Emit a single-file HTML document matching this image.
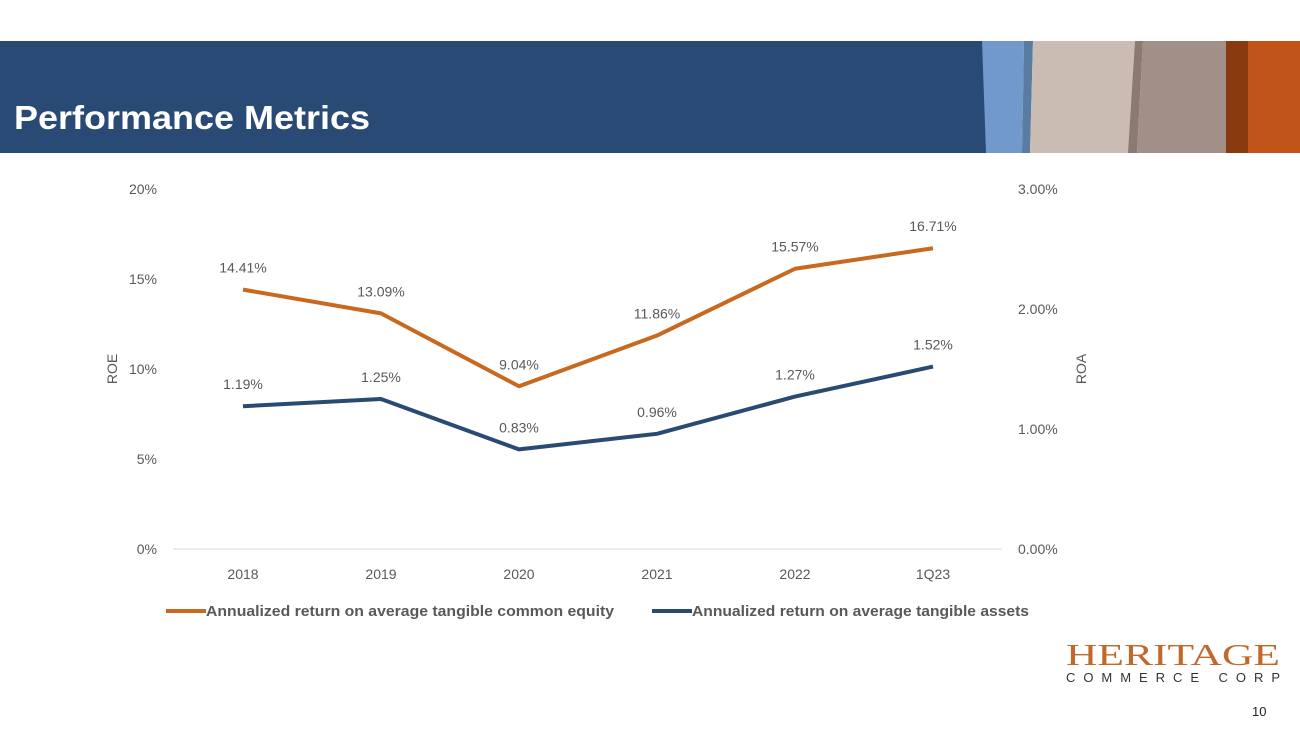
<!DOCTYPE html>
<html><head><meta charset="utf-8"><style>
body{margin:0;width:1300px;height:731px;overflow:hidden;background:#fff;font-family:"Liberation Sans",sans-serif}
</style></head><body>
<svg width="1300" height="731" xmlns="http://www.w3.org/2000/svg">
<rect x="0" y="41" width="990" height="112" fill="#284a75"/>
<polygon points="982,41 1024,41 1022,153 986,153" fill="#7199cc"/>
<polygon points="1024,41 1033,41 1030,153 1022,153" fill="#5a7ca0"/>
<polygon points="1033,41 1135,41 1130,153 1030,153" fill="#cabcb2"/>
<polygon points="1135,41 1143,41 1137,153 1128,153" fill="#8b7a70"/>
<polygon points="1143,41 1226,41 1228,153 1137,153" fill="#a28f87"/>
<rect x="1226" y="41" width="22" height="112" fill="#8a3a0f"/>
<rect x="1248" y="41" width="52" height="112" fill="#c05419"/>
<text x="14" y="129" fill="#fff" font-size="33" font-weight="bold" textLength="356" lengthAdjust="spacingAndGlyphs">Performance Metrics</text>
<g id="chart" font-size="14" fill="#595959"></g>
<text x="1066" y="665" font-family="'Liberation Serif',serif" font-size="31" fill="#c0692a" textLength="214" lengthAdjust="spacingAndGlyphs">HERITAGE</text>
<text x="1066" y="682" font-size="13" fill="#333" textLength="214">COMMERCE CORP</text>
<text x="1252" y="716" font-size="13" fill="#222">10</text>
</svg>
<script>
const categories=["2018","2019","2020","2021","2022","1Q23"];
const roe=[14.41,13.09,9.04,11.86,15.57,16.71];
const roa=[1.19,1.25,0.83,0.96,1.27,1.52];
const leftTicks=[0,5,10,15,20];
const rightTicks=[0,1,2,3];
const NS="http://www.w3.org/2000/svg";
const g=document.getElementById('chart');
const x=i=>243+i*138;
const yL=v=>549-v*18;
const yR=v=>549-v*120;
function t(px,py,s,anchor,name,extra){const e=document.createElementNS(NS,'text');e.setAttribute('x',px);e.setAttribute('y',py);e.setAttribute('text-anchor',anchor);e.textContent=s;


if(extra)for(const k in extra)e.setAttribute(k,extra[k]);g.appendChild(e);return e;}
const ax=document.createElementNS(NS,'line');ax.setAttribute('x1',173);ax.setAttribute('x2',1002);ax.setAttribute('y1',549);ax.setAttribute('y2',549);ax.setAttribute('stroke','#d9d9d9');


g.appendChild(ax);
leftTicks.forEach(v=>t(157,yL(v)+5,v+'%','end','left-tick-label'));
rightTicks.forEach(v=>t(1018,yR(v)+5,v.toFixed(2)+'%','start','right-tick-label'));
categories.forEach((c,i)=>t(x(i),579,c,'middle','x-tick-label'));
t(0,0,'ROE','middle','left-axis-title',{transform:'translate(117,369) rotate(-90)'});
t(0,0,'ROA','middle','right-axis-title',{transform:'translate(1086,369) rotate(-90)'});
function line(vals,yf,color,name){const p=document.createElementNS(NS,'polyline');p.setAttribute('points',vals.map((v,i)=>x(i)+','+yf(v)).join(' '));p.setAttribute('fill','none');p.setAttribute('stroke',color);p.setAttribute('stroke-width',4);p.setAttribute('stroke-linejoin','round');


g.appendChild(p);
vals.forEach((v,i)=>t(x(i),yf(v)-17,v.toFixed(2)+'%','middle','data-label'));}
line(roe,yL,'#c8691f','roe-line');
line(roa,yR,'#284a73','roa-line');
function leg(lx,len,color,label,name){const l=document.createElementNS(NS,'line');l.setAttribute('x1',lx);l.setAttribute('x2',lx+40);l.setAttribute('y1',611);l.setAttribute('y2',611);l.setAttribute('stroke',color);l.setAttribute('stroke-width',4);


g.appendChild(l);t(lx+40,616,label,'start',name,{'font-weight':'bold','font-size':'15',textLength:len,lengthAdjust:'spacingAndGlyphs'});}
leg(166,408,'#c8691f','Annualized return on average tangible common equity','legend-roe');
leg(652,337,'#284a73','Annualized return on average tangible assets','legend-roa');
</script>
</body></html>
